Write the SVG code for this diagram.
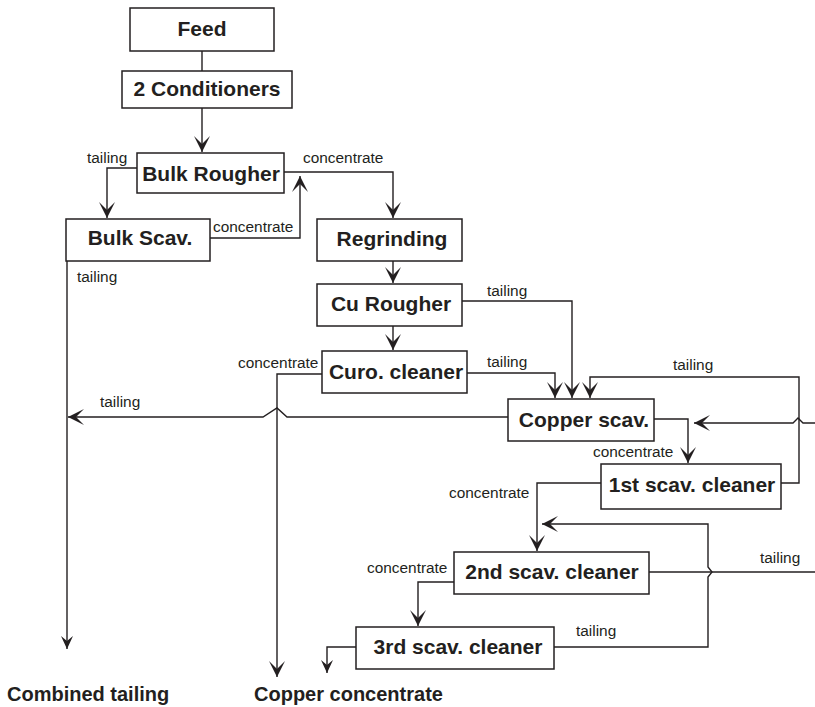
<svg xmlns="http://www.w3.org/2000/svg" width="815" height="707" viewBox="0 0 815 707">
<style>
.box{fill:#fff;stroke:#231f20;stroke-width:1.5}
.nt{font-family:"Liberation Sans",Arial,sans-serif;font-weight:bold;font-size:21px;fill:#231f20;text-anchor:middle}
.lb{font-family:"Liberation Sans",Arial,sans-serif;font-size:15.4px;fill:#231f20}
.out{font-family:"Liberation Sans",Arial,sans-serif;font-weight:bold;font-size:20px;fill:#231f20}
.c{fill:none;stroke:#231f20;stroke-width:1.4}
.a{marker-end:url(#ah)}
.s{marker-end:url(#ahs)}
</style>
<defs>
<marker id="ah" viewBox="-17 -9 18 18" refX="0" refY="0" markerWidth="18" markerHeight="18" markerUnits="userSpaceOnUse" orient="auto">
<path d="M0,0 L-16,-8 L-8,0 L-16,8 Z" fill="#231f20"/>
</marker>
<marker id="ahs" viewBox="-14 -7 15 14" refX="0" refY="0" markerWidth="15" markerHeight="14" markerUnits="userSpaceOnUse" orient="auto">
<path d="M0,0 L-13,-6 L-8,0 L-13,6 Z" fill="#231f20"/>
</marker>
</defs>
<g id="connectors">
<path class="c" d="M202,51 V71"/>
<path class="c a" d="M202,108 V152"/>
<path class="c a" d="M137,168 H107 V218"/>
<path class="c a" d="M210,238 H300 V176"/>
<path class="c a" d="M284,172 H393 V218"/>
<path class="c a" d="M393,261 V283"/>
<path class="c a" d="M393,326 V350"/>
<path class="c a" d="M462,301 H572 V398"/>
<path class="c a" d="M467,373 H555 V398"/>
<path class="c a" d="M781,483 H799 V377 H590 V398"/>
<path class="c a" d="M654,419 H688 V463"/>
<path class="c a" d="M815,423 H803 L798,418 L793,423 H694"/>
<path class="c a" d="M508,417 H287 L277,408 L263,417 H68"/>
<path class="c s" d="M67,261 V649"/>
<path class="c a" d="M322,374 H277 V677"/>
<path class="c a" d="M601,483 H537 V551"/>
<path class="c a" d="M554,647 H708 V577 L712,572 L708,567 V524 H542"/>
<path class="c" d="M649,572 H815"/>
<path class="c a" d="M454,582 H418 V626"/>
<path class="c s" d="M356,647 H327 V673"/>
</g>
<g id="feed"><rect class="box" x="130" y="8" width="144" height="43"/><text class="nt" x="202" y="36">Feed</text></g>
<g id="conditioners"><rect class="box" x="122" y="71" width="170" height="37"/><text class="nt" x="207" y="96">2 Conditioners</text></g>
<g id="bulk-rougher"><rect class="box" x="137" y="153" width="147" height="40"/><text class="nt" x="211" y="181">Bulk Rougher</text></g>
<g id="bulk-scav"><rect class="box" x="66" y="219" width="144" height="42"/><text class="nt" x="140" y="245">Bulk Scav.</text></g>
<g id="regrinding"><rect class="box" x="317" y="219" width="145" height="42"/><text class="nt" x="392" y="246">Regrinding</text></g>
<g id="cu-rougher"><rect class="box" x="317" y="284" width="145" height="42"/><text class="nt" x="391" y="311">Cu Rougher</text></g>
<g id="curo-cleaner"><rect class="box" x="322" y="351" width="145" height="42"/><text class="nt" x="396" y="379">Curo. cleaner</text></g>
<g id="copper-scav"><rect class="box" x="508" y="399" width="146" height="42"/><text class="nt" x="584" y="427">Copper scav.</text></g>
<g id="scav-cleaner-1"><rect class="box" x="601" y="464" width="180" height="45"/><text class="nt" x="692" y="492">1st scav. cleaner</text></g>
<g id="scav-cleaner-2"><rect class="box" x="454" y="552" width="195" height="42"/><text class="nt" x="552" y="579">2nd scav. cleaner</text></g>
<g id="scav-cleaner-3"><rect class="box" x="356" y="627" width="198" height="42"/><text class="nt" x="458" y="654">3rd scav. cleaner</text></g>
<g id="labels">
<text class="lb" x="87" y="163">tailing</text>
<text class="lb" x="213" y="232">concentrate</text>
<text class="lb" x="303" y="163">concentrate</text>
<text class="lb" x="77" y="282">tailing</text>
<text class="lb" x="487" y="296">tailing</text>
<text class="lb" x="238" y="368">concentrate</text>
<text class="lb" x="487" y="367">tailing</text>
<text class="lb" x="673" y="370">tailing</text>
<text class="lb" x="100" y="407">tailing</text>
<text class="lb" x="593" y="457">concentrate</text>
<text class="lb" x="449" y="498">concentrate</text>
<text class="lb" x="760" y="563">tailing</text>
<text class="lb" x="367" y="573">concentrate</text>
<text class="lb" x="576" y="636">tailing</text>
</g>
<g id="combined-tailing"><text class="out" x="7" y="701">Combined tailing</text></g>
<g id="copper-concentrate"><text class="out" x="254" y="701">Copper concentrate</text></g>
</svg>
